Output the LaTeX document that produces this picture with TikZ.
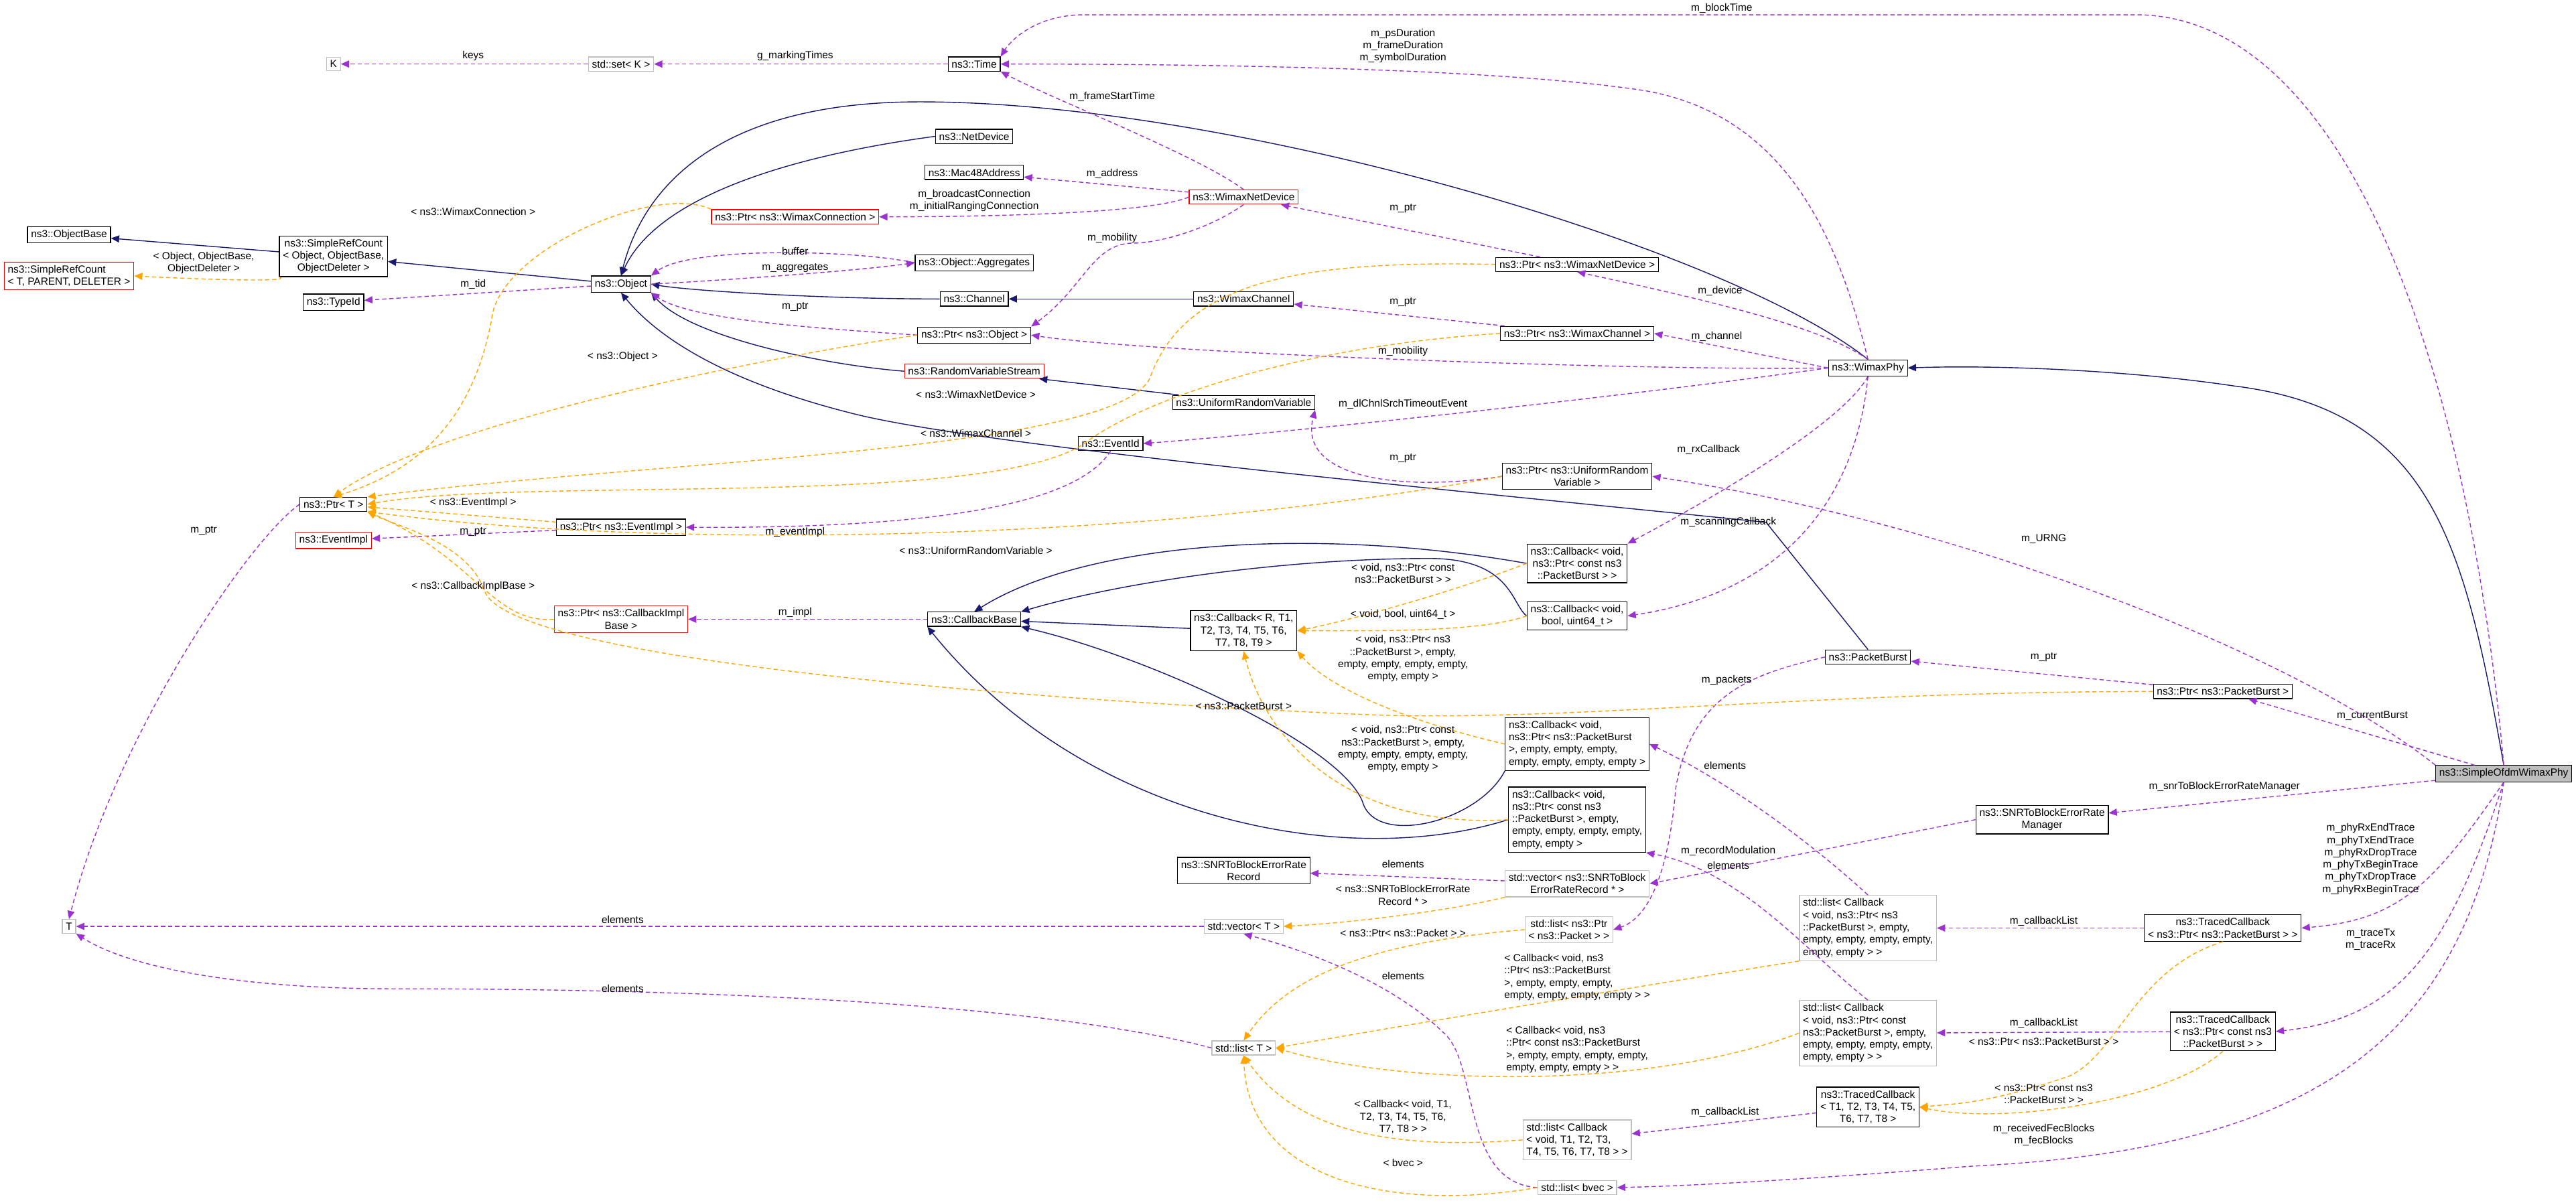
\documentclass[tikz,border=0pt]{standalone}
\usepackage{fontspec}
\setmainfont{Liberation Sans}
\usetikzlibrary{arrows.meta}
\definecolor{navy}{HTML}{191970}
\definecolor{purp}{HTML}{9A32CD}
\definecolor{orng}{HTML}{FFA500}
\definecolor{gbord}{HTML}{BFBFBF}
\begin{document}
\begin{tikzpicture}[x=0.024522cm,y=-0.024522cm,
  every node/.style={font=\fontsize{4.4}{5.2}\selectfont,inner xsep=1.5pt,inner ysep=1.4pt},
  bx/.style={draw=black,fill=white,line width=0.35pt,align=center},
  rbx/.style={bx,draw=red},
  gbx/.style={bx,draw=gbord},
  lbl/.style={align=center,inner sep=0pt},
  inh/.style={draw=navy,line width=0.4pt,-{Triangle[length=3.5pt,width=3pt]}},
  use/.style={draw=purp,line width=0.4pt,dash pattern=on 1.8pt off 1.2pt,-{Triangle[length=3.5pt,width=3pt]}},
  tpl/.style={draw=orng,line width=0.4pt,dash pattern=on 1.8pt off 1.2pt,-{Triangle[length=3.5pt,width=3pt]}}]
\useasboundingbox (0,0) rectangle (1568,732.4);
% nodes
\node[gbx] (K) at (203,39) {K};
\node[gbx] (set) at (378,39) {std::set< K >};
\node[bx] (time) at (593,39) {ns3::Time};
\node[bx] (netdev) at (593,83) {ns3::NetDevice};
\node[bx] (mac) at (593,105) {ns3::Mac48Address};
\node[rbx] (ptrconn) at (484,132) {ns3::Ptr< ns3::WimaxConnection >};
\node[rbx] (wnd) at (757,120) {ns3::WimaxNetDevice};
\node[bx] (objbase) at (42,143) {ns3::ObjectBase};
\node[rbx,align=left] (srcT) at (42,168) {ns3::SimpleRefCount\\< T, PARENT, DELETER >};
\node[bx] (srcO) at (203,156) {ns3::SimpleRefCount\\< Object, ObjectBase,\\ ObjectDeleter >};
\node[bx] (typeid) at (203,184) {ns3::TypeId};
\node[bx] (object) at (378,173) {ns3::Object};
\node[bx] (aggr) at (593,160) {ns3::Object::Aggregates};
\node[bx] (channel) at (593,182) {ns3::Channel};
\node[bx] (wch) at (757,182) {ns3::WimaxChannel};
\node[bx] (ptrobj) at (593,204) {ns3::Ptr< ns3::Object >};
\node[rbx] (rvs) at (593,226) {ns3::RandomVariableStream};
\node[bx] (urv) at (757,245) {ns3::UniformRandomVariable};
\node[bx] (eventid) at (676,270) {ns3::EventId};
\node[bx] (ptrwnd) at (960,161) {ns3::Ptr< ns3::WimaxNetDevice >};
\node[bx] (ptrwch) at (960,203) {ns3::Ptr< ns3::WimaxChannel >};
\node[bx] (wphy) at (1137,224) {ns3::WimaxPhy};
\node[bx] (ptrurv) at (960,290) {ns3::Ptr< ns3::UniformRandom\\Variable >};
\node[bx] (ptrT) at (203,307) {ns3::Ptr< T >};
\node[rbx] (eventimpl) at (203,329) {ns3::EventImpl};
\node[bx] (ptrevent) at (378,321) {ns3::Ptr< ns3::EventImpl >};
\node[rbx] (ptrcib) at (378,377) {ns3::Ptr< ns3::CallbackImpl\\Base >};
\node[bx] (cbbase) at (593,377) {ns3::CallbackBase};
\node[bx] (cbR) at (757,384) {ns3::Callback< R, T1,\\ T2, T3, T4, T5, T6,\\ T7, T8, T9 >};
\node[bx] (cbPC) at (960,343) {ns3::Callback< void,\\ ns3::Ptr< const ns3\\::PacketBurst > >};
\node[bx] (cbB) at (960,375) {ns3::Callback< void,\\ bool, uint64\_t >};
\node[bx] (pburst) at (1137,400) {ns3::PacketBurst};
\node[bx] (ptrpb) at (1353,421) {ns3::Ptr< ns3::PacketBurst >};
\node[bx,align=left] (cbPE) at (960,453) {ns3::Callback< void,\\ ns3::Ptr< ns3::PacketBurst\\ >, empty, empty, empty,\\ empty, empty, empty, empty >};
\node[bx,align=left] (cbCE) at (960,499) {ns3::Callback< void,\\ ns3::Ptr< const ns3\\ ::PacketBurst >, empty,\\ empty, empty, empty, empty,\\ empty, empty >};
\node[bx,fill=gbord] (simple) at (1524,471) {ns3::SimpleOfdmWimaxPhy};
\node[bx] (snrmgr) at (1243,499) {ns3::SNRToBlockErrorRate\\Manager};
\node[bx] (snrrec) at (757,530) {ns3::SNRToBlockErrorRate\\Record};
\node[gbx] (vecsnr) at (960,538) {std::vector< ns3::SNRToBlock\\ErrorRateRecord * >};
\node[gbx] (T) at (42,564) {T};
\node[gbx] (vecT) at (757,564) {std::vector< T >};
\node[gbx] (listpkt) at (955,566) {std::list< ns3::Ptr\\< ns3::Packet > >};
\node[gbx,align=left] (listcbPE) at (1137,565) {std::list< Callback\\< void, ns3::Ptr< ns3\\::PacketBurst >, empty,\\ empty, empty, empty, empty,\\ empty, empty > >};
\node[bx] (tcPB) at (1353,565) {ns3::TracedCallback\\< ns3::Ptr< ns3::PacketBurst > >};
\node[gbx,align=left] (listcbCE) at (1137,629) {std::list< Callback\\< void, ns3::Ptr< const\\ ns3::PacketBurst >, empty,\\ empty, empty, empty, empty,\\ empty, empty > >};
\node[bx] (tcCPB) at (1353,628) {ns3::TracedCallback\\< ns3::Ptr< const ns3\\::PacketBurst > >};
\node[gbx] (listT) at (757,638) {std::list< T >};
\node[bx] (tcT) at (1137,674) {ns3::TracedCallback\\< T1, T2, T3, T4, T5,\\ T6, T7, T8 >};
\node[gbx,align=left] (listcbT) at (960,694) {std::list< Callback\\< void, T1, T2, T3,\\ T4, T5, T6, T7, T8 > >};
\node[gbx] (listbvec) at (960,723) {std::list< bvec >};
% inheritance
\draw[inh] (srcO) -- (objbase);
\draw[inh] (object) -- (srcO);
\draw[inh] (netdev.west) .. controls (480,95) and (400,120) .. (object.north);
\draw[inh] (wphy.north) .. controls (1050,150) and (750,62) .. (560,62) .. controls (430,62) and (390,120) .. (object.north);
\draw[inh] (channel.west) .. controls (500,182) and (420,177) .. (object.east);
\draw[inh] (wch) -- (channel);
\draw[inh] (rvs.west) .. controls (500,222) and (420,205) .. (object.south east);
\draw[inh] (urv) -- (rvs);
\draw[inh] (pburst.north) -- (1075,318) .. controls (900,300) and (600,272) .. (520,252) .. controls (440,232) and (400,205) .. (object.south);
\draw[inh] (simple.north) .. controls (1500,330) and (1480,250) .. (1360,235) .. controls (1300,226) and (1220,222) .. (wphy.east);
\draw[inh] (cbR) -- (cbbase);
\draw[inh] (cbPC.west) .. controls (800,320) and (660,330) .. (cbbase.north);
\draw[inh] (cbB.west) .. controls (920,368) and (920,340) .. (870,340) .. controls (780,340) and (680,355) .. (cbbase.north east);
\draw[inh] (cbPE.south west) .. controls (900,500) and (840,515) .. (830,490) .. controls (820,455) and (700,400) .. (cbbase.south east);
\draw[inh] (cbCE.west) .. controls (820,530) and (660,500) .. (cbbase.south west);
% usage
\draw[use] (set) -- (K);
\draw[use] (time) -- (set);
\draw[use] (simple.north) .. controls (1500,200) and (1420,9) .. (1300,9) -- (660,9) .. controls (630,9) and (615,25) .. (time.north east);
\draw[use] (wphy.north) .. controls (1120,150) and (1090,70) .. (1000,55) .. controls (900,40) and (700,39) .. (time.east);
\draw[use] (wnd.north) .. controls (730,95) and (640,60) .. (time.south east);
\draw[use] (wnd) -- (mac);
\draw[use] (wnd.west) .. controls (700,130) and (600,132) .. (ptrconn.east);
\draw[use] (wnd.south) .. controls (735,140) and (705,148) .. (690,148) .. controls (665,148) and (660,175) .. (ptrobj.north east);
\draw[use] (ptrwnd) -- (wnd);
\draw[use] (wphy.north) .. controls (1110,200) and (1050,185) .. (ptrwnd.south);
\draw[use] (ptrwch) -- (wch);
\draw[use] (wphy.west) -- (ptrwch.east);
\draw[use] (wphy.west) .. controls (1000,226) and (700,215) .. (ptrobj.east);
\draw[use] (wphy.west) .. controls (1000,240) and (800,262) .. (eventid.east);
\draw[use] (aggr.west) .. controls (520,152) and (420,150) .. (object.north east);
\draw[use] (object.east) .. controls (450,170) and (520,165) .. (aggr.west);
\draw[use] (ptrobj.west) .. controls (500,200) and (420,195) .. (object.south east);
\draw[use] (object) -- (typeid);
\draw[use] (ptrurv.west) .. controls (850,300) and (790,290) .. (urv.south east);
\draw[use] (simple.north west) .. controls (1400,400) and (1200,320) .. (ptrurv.east);
\draw[use] (wphy.south) .. controls (1120,260) and (1030,310) .. (cbPC.north east);
\draw[use] (wphy.south) .. controls (1130,300) and (1090,360) .. (cbB.east);
\draw[use] (eventid.south) .. controls (660,300) and (600,322) .. (ptrevent.east);
\draw[use] (ptrevent) -- (eventimpl);
\draw[use] (ptrT.west) .. controls (150,330) and (70,450) .. (T.north);
\draw[use] (cbbase) -- (ptrcib);
\draw[use] (ptrpb) -- (pburst);
\draw[use] (simple) -- (ptrpb);
\draw[use] (pburst.west) .. controls (1070,410) and (1030,420) .. (1020,480) .. controls (1015,540) and (1000,560) .. (listpkt.east);
\draw[use] (simple) -- (snrmgr);
\draw[use] (snrmgr.west) -- (vecsnr.east);
\draw[use] (vecsnr) -- (snrrec);
\draw[use] (listcbPE.north) .. controls (1110,520) and (1060,480) .. (cbPE.east);
\draw[use] (listcbCE.north) .. controls (1100,580) and (1060,530) .. (cbCE.south east);
\draw[use] (vecT) -- (T);
\draw[use] (listT.west) .. controls (600,602) and (300,602) .. (240,602) .. controls (150,602) and (80,590) .. (T.south east);
\draw[use] (tcPB) -- (listcbPE);
\draw[use] (tcCPB) -- (listcbCE);
\draw[use] (tcT) -- (listcbT);
\draw[use] (simple.south) .. controls (1480,540) and (1460,560) .. (tcPB.east);
\draw[use] (simple.south) .. controls (1490,580) and (1460,620) .. (tcCPB.east);
\draw[use] (simple.south) .. controls (1500,640) and (1400,700) .. (1200,710) .. controls (1100,718) and (1030,722) .. (listbvec.east);
\draw[use] (listbvec.west) .. controls (890,720) and (900,650) .. (880,630) .. controls (850,600) and (800,580) .. (vecT.south);
% templates
\draw[tpl] (srcO.south west) .. controls (180,172) and (120,170) .. (srcT.east);
\draw[tpl] (ptrconn.north west) .. controls (400,112) and (310,150) .. (300,190) .. controls (290,250) and (260,285) .. (ptrT.north);
\draw[tpl] (ptrobj.west) .. controls (450,220) and (260,260) .. (ptrT.north);
\draw[tpl] (ptrwnd.west) .. controls (780,158) and (720,175) .. (700,230) .. controls (680,275) and (400,280) .. (ptrT.north east);
\draw[tpl] (ptrwch.west) .. controls (800,210) and (700,240) .. (660,270) .. controls (600,310) and (320,290) .. (ptrT.east);
\draw[tpl] (ptrurv.west) .. controls (700,330) and (400,335) .. (ptrT.south east);
\draw[tpl] (ptrevent) -- (ptrT);
\draw[tpl] (ptrcib.west) .. controls (300,380) and (290,340) .. (ptrT.south east);
\draw[tpl] (ptrpb.west) .. controls (1100,421) and (950,440) .. (830,435) .. controls (600,425) and (310,400) .. (295,360) .. controls (285,330) and (240,320) .. (ptrT.south east);
\draw[tpl] (cbPC.west) .. controls (880,362) and (820,378) .. (cbR.east);
\draw[tpl] (cbB.west) .. controls (900,385) and (840,384) .. (cbR.east);
\draw[tpl] (cbPE.west) .. controls (860,440) and (810,420) .. (cbR.south east);
\draw[tpl] (cbCE.west) .. controls (820,505) and (770,450) .. (cbR.south);
\draw[tpl] (vecsnr.south west) .. controls (880,555) and (820,562) .. (vecT.east);
\draw[tpl] (listpkt.west) .. controls (820,575) and (780,600) .. (listT.north);
\draw[tpl] (listcbPE.south west) .. controls (1000,600) and (850,625) .. (listT.east);
\draw[tpl] (listcbCE.west) .. controls (1000,665) and (850,660) .. (listT.east);
\draw[tpl] (listcbT.west) .. controls (850,700) and (790,690) .. (listT.south);
\draw[tpl] (listbvec.west) .. controls (850,738) and (760,720) .. (listT.south);
\draw[tpl] (tcPB.south) .. controls (1300,590) and (1290,640) .. (1260,655) .. controls (1210,672) and (1190,672) .. (tcT.east);
\draw[tpl] (tcCPB.south) .. controls (1320,670) and (1220,685) .. (tcT.east);
% labels
\node[lbl] at (288,34) {keys};
\node[lbl] at (484,34) {g\_markingTimes};
\node[lbl] at (1048,5) {m\_blockTime};
\node[lbl] at (854,28) {m\_psDuration\\m\_frameDuration\\m\_symbolDuration};
\node[lbl] at (677,59) {m\_frameStartTime};
\node[lbl] at (677,106) {m\_address};
\node[lbl] at (593,122) {m\_broadcastConnection\\m\_initialRangingConnection};
\node[lbl] at (677,145) {m\_mobility};
\node[lbl] at (854,127) {m\_ptr};
\node[lbl] at (854,184) {m\_ptr};
\node[lbl] at (854,214) {m\_mobility};
\node[lbl] at (594,240) {< ns3::WimaxNetDevice >};
\node[lbl] at (594,264) {< ns3::WimaxChannel >};
\node[lbl] at (854,246) {m\_dlChnlSrchTimeoutEvent};
\node[lbl] at (854,279) {m\_ptr};
\node[lbl] at (288,129) {< ns3::WimaxConnection >};
\node[lbl] at (124,160) {< Object, ObjectBase,\\ObjectDeleter >};
\node[lbl] at (288,173) {m\_tid};
\node[lbl] at (379,217) {< ns3::Object >};
\node[lbl] at (484,153) {buffer};
\node[lbl] at (484,163) {m\_aggregates};
\node[lbl] at (484,187) {m\_ptr};
\node[lbl] at (1047,177) {m\_device};
\node[lbl] at (1045,205) {m\_channel};
\node[lbl] at (1040,274) {m\_rxCallback};
\node[lbl] at (1052,318) {m\_scanningCallback};
\node[lbl] at (124,323) {m\_ptr};
\node[lbl] at (288,306) {< ns3::EventImpl >};
\node[lbl] at (288,324) {m\_ptr};
\node[lbl] at (484,324) {m\_eventImpl};
\node[lbl] at (288,357) {< ns3::CallbackImplBase >};
\node[lbl] at (484,373) {m\_impl};
\node[lbl] at (594,335) {< ns3::UniformRandomVariable >};
\node[lbl] at (854,349) {< void, ns3::Ptr< const\\ns3::PacketBurst > >};
\node[lbl] at (854,374) {< void, bool, uint64\_t >};
\node[lbl] at (854,401) {< void, ns3::Ptr< ns3\\::PacketBurst >, empty,\\empty, empty, empty, empty,\\empty, empty >};
\node[lbl] at (757,430) {< ns3::PacketBurst >};
\node[lbl] at (854,456) {< void, ns3::Ptr< const\\ns3::PacketBurst >, empty,\\empty, empty, empty, empty,\\empty, empty >};
\node[lbl] at (1051,414) {m\_packets};
\node[lbl] at (1050,466) {elements};
\node[lbl] at (1052,518) {m\_recordModulation};
\node[lbl] at (1052,527) {elements};
\node[lbl] at (854,526) {elements};
\node[lbl] at (854,545) {< ns3::SNRToBlockErrorRate\\Record * >};
\node[lbl] at (854,568) {< ns3::Ptr< ns3::Packet > >};
\node[lbl] at (854,594) {elements};
\node[lbl] at (379,560) {elements};
\node[lbl] at (379,602) {elements};
\node[lbl,align=left] at (960,595) {< Callback< void, ns3\\::Ptr< ns3::PacketBurst\\>, empty, empty, empty,\\empty, empty, empty, empty > >};
\node[lbl,align=left] at (960,639) {< Callback< void, ns3\\::Ptr< const ns3::PacketBurst\\>, empty, empty, empty, empty,\\empty, empty, empty > >};
\node[lbl] at (854,680) {< Callback< void, T1,\\T2, T3, T4, T5, T6,\\T7, T8 > >};
\node[lbl] at (854,708) {< bvec >};
\node[lbl] at (1050,677) {m\_callbackList};
\node[lbl] at (1244,328) {m\_URNG};
\node[lbl] at (1244,400) {m\_ptr};
\node[lbl] at (1444,436) {m\_currentBurst};
\node[lbl] at (1354,479) {m\_snrToBlockErrorRateManager};
\node[lbl] at (1443,523) {m\_phyRxEndTrace\\m\_phyTxEndTrace\\m\_phyRxDropTrace\\m\_phyTxBeginTrace\\m\_phyTxDropTrace\\m\_phyRxBeginTrace};
\node[lbl] at (1443,572) {m\_traceTx\\m\_traceRx};
\node[lbl] at (1244,561) {m\_callbackList};
\node[lbl] at (1244,623) {m\_callbackList};
\node[lbl] at (1244,634) {< ns3::Ptr< ns3::PacketBurst > >};
\node[lbl] at (1244,666) {< ns3::Ptr< const ns3\\::PacketBurst > >};
\node[lbl] at (1244,691) {m\_receivedFecBlocks\\m\_fecBlocks};
\end{tikzpicture}
\end{document}
